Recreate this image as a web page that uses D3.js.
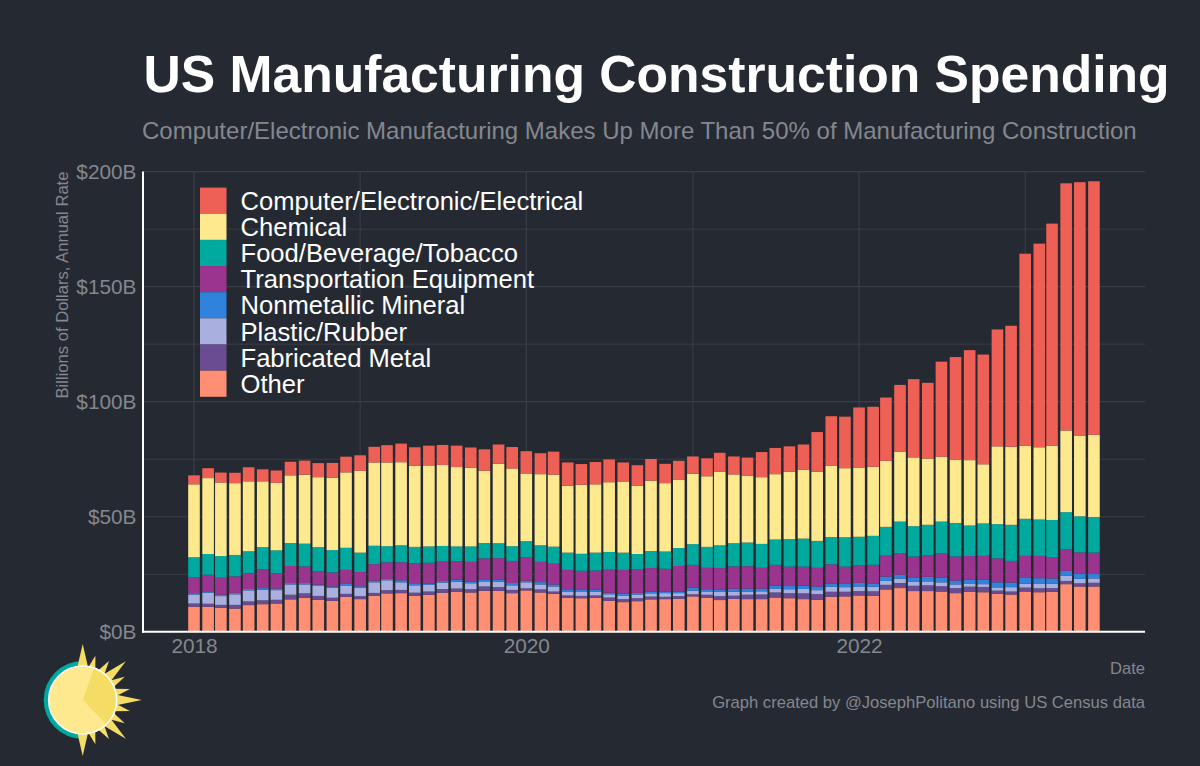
<!DOCTYPE html>
<html>
<head>
<meta charset="utf-8">
<title>US Manufacturing Construction Spending</title>
<script src="https://cdn.jsdelivr.net/npm/d3@7"></script>
<style>
html, body { margin: 0; padding: 0; background: #252a32; }
svg { display: block; font-family: "Liberation Sans", Arial, sans-serif; }
</style>
</head>
<body>
<svg id="chart"></svg>
<script>
var svgWidth = 1200;
var svgHeight = 766;

// monthly, Jan 2018 - Jun 2023, billions of dollars annual rate
var startMonth = "2018-01";
var computer = [3.9,4.3,4.3,4.5,6.1,5.2,5.4,5.9,6.1,6.1,6.5,6.8,6.8,6.8,7.5,8.1,8.1,8.6,8.7,9.3,8.8,9.3,8.4,9.3,9.7,9.1,10.0,10.1,9.0,9.7,9.9,8.3,9.0,9.4,8.4,8.3,7.5,7.8,8.3,7.8,7.8,10.9,11.4,11.0,10.9,17.2,21.6,22.4,26.1,26.1,27.5,29.1,34.0,32.9,41.4,44.7,47.8,47.7,50.8,52.6,83.5,88.5,96.6,107.4,110.1,110.2];
var chemical = [31.7,33.0,32.0,31.2,30.4,28.6,29.3,29.4,30.0,30.4,31.4,32.8,35.5,36.2,36.4,36.1,35.2,35.2,35.2,34.5,34.2,31.4,34.5,33.8,29.4,30.9,31.3,29.1,30.0,29.7,30.3,30.9,29.6,30.6,29.7,29.6,30.6,30.7,31.9,29.9,29.1,29.0,28.4,29.3,30.0,30.1,30.9,30.0,30.1,30.0,28.7,30.3,29.9,28.8,28.1,27.4,28.4,25.7,33.8,33.9,31.7,31.4,32.2,35.5,35.1,35.7];
var food = [8.8,9.0,9.4,9.3,9.6,9.7,9.9,10.0,9.9,10.4,9.7,9.6,8.4,8.0,7.0,7.4,7.1,7.1,6.8,6.4,6.7,6.7,6.5,6.4,7.1,7.2,7.4,7.5,7.4,7.8,7.7,7.5,6.5,7.4,7.5,7.8,9.0,9.1,9.9,10.1,10.3,10.4,11.0,12.0,12.2,11.7,11.9,12.8,12.5,12.6,12.5,13.8,13.2,13.3,13.9,14.6,13.3,14.1,14.9,15.7,16.1,15.8,16.1,16.1,15.7,15.5];
var transportation = [6.8,7.2,7.4,7.2,6.8,8.1,6.7,7.4,7.2,5.9,6.1,6.1,6.2,7.2,7.2,7.8,8.7,9.0,8.4,8.0,8.6,9.1,9.4,9.6,10.1,8.8,9.0,8.7,8.3,8.3,10.0,10.4,10.4,10.3,10.0,11.2,10.0,9.3,9.4,9.7,9.7,9.0,9.1,8.4,8.3,8.1,8.4,7.5,7.5,8.1,9.1,9.3,9.3,9.3,10.6,10.4,10.3,10.3,10.4,9.4,9.6,9.7,9.3,9.4,9.3,9.3];
var nonmetallic = [0.6,0.6,0.6,0.6,0.6,0.7,0.7,0.6,0.6,0.6,0.6,0.7,0.7,0.7,0.6,0.9,0.9,0.6,0.7,1.0,0.7,0.9,0.9,1.0,0.7,1.0,0.9,0.7,0.9,0.9,0.7,0.9,0.7,0.7,0.6,0.6,1.2,1.2,0.9,1.3,1.3,1.2,1.2,1.4,1.4,1.6,1.3,1.4,1.6,1.4,1.9,1.7,1.7,2.0,1.9,1.7,1.6,2.0,2.2,2.0,2.5,2.5,2.3,2.2,2.2,1.9];
var plastic = [3.9,4.8,3.8,4.6,4.8,4.6,4.2,4.5,3.9,4.3,4.3,3.6,3.6,4.6,4.3,3.3,3.2,2.9,2.8,2.9,2.6,2.2,2.3,2.0,2.6,2.2,2.2,1.7,1.7,1.6,1.4,1.4,1.6,1.4,1.6,1.3,1.6,1.2,1.9,1.7,1.4,1.4,1.7,1.7,1.9,1.7,2.2,2.0,2.0,2.0,1.7,1.9,1.7,1.7,1.7,1.6,1.4,1.2,1.4,1.9,1.7,1.9,1.9,2.2,1.9,1.9];
var fabricated = [1.4,1.3,1.3,1.6,1.6,1.7,1.6,2.0,1.9,1.7,1.3,1.3,1.3,1.2,1.4,1.4,1.3,1.4,1.6,1.4,1.4,1.9,1.6,1.4,0.9,1.3,1.0,1.0,1.0,1.0,1.4,1.3,1.3,1.2,1.0,1.2,0.9,1.3,1.7,1.4,1.9,2.0,2.2,2.2,2.5,2.5,2.2,2.0,1.9,1.9,2.0,2.2,2.3,2.5,2.3,2.2,2.2,2.3,1.4,1.3,1.7,1.7,1.6,1.4,1.4,1.6];
var other = [10.9,10.9,10.4,10.1,11.6,12.0,12.3,14.1,14.8,13.9,13.5,15.2,14.2,15.7,16.7,16.8,15.7,16.1,17.0,17.4,17.1,17.8,17.8,16.8,18.0,17.1,16.5,14.8,14.6,14.8,13.5,12.9,13.3,14.1,14.2,14.3,15.4,14.8,13.8,14.3,14.2,14.2,14.9,14.6,14.2,13.9,15.2,15.4,15.8,15.7,18.4,19.0,17.7,17.7,17.5,16.8,17.4,17.2,16.5,16.2,17.5,17.2,17.4,20.7,19.7,19.7];

var seriesNames = ["Computer/Electronic/Electrical", "Chemical", "Food/Beverage/Tobacco", "Transportation Equipment", "Nonmetallic Mineral", "Plastic/Rubber", "Fabricated Metal", "Other"];
var seriesValues = [computer, chemical, food, transportation, nonmetallic, plastic, fabricated, other];
var seriesColors = ["#EE6055", "#FFE98F", "#00A99D", "#9A348E", "#3083DC", "#A9B0E0", "#6A4C93", "#FF8E72"];

var yMajor = [0, 50, 100, 150, 200];
var yMinor = [25, 75, 125, 175];
var xMajor = ["2018-01-01", "2020-01-01", "2022-01-01"];
var xMinor = ["2019-01-01", "2021-01-01", "2023-01-01"];

var bg = "#252a32";
var gridColor = "#3a3e47";
var mutedText = "#84878e";
var barWidth = 11.6;

var parseDay = d3.utcParse("%Y-%m-%d");

var svg = d3.select("#chart")
    .attr("width", svgWidth)
    .attr("height", svgHeight);

svg.append("rect").attr("width", svgWidth).attr("height", svgHeight).attr("fill", bg);

// scales, pinned to where the gridlines fall in the picture
var x = d3.scaleUtc()
    .domain([parseDay("2018-01-01"), parseDay("2023-01-01")])
    .range([194, 1025.2]);
var y = d3.scaleLinear()
    .domain([0, 200])
    .range([631.8, 171.6]);

var plotLeft = 143;
var plotRight = 1145;

// gridlines
function vGrid(list, w) {
    svg.append("g").selectAll("line").data(list).enter().append("line")
        .attr("x1", function(d) { return x(parseDay(d)); })
        .attr("x2", function(d) { return x(parseDay(d)); })
        .attr("y1", y(200))
        .attr("y2", y(0))
        .attr("stroke", gridColor)
        .attr("stroke-width", w);
}
function hGrid(list, w) {
    svg.append("g").selectAll("line").data(list).enter().append("line")
        .attr("x1", plotLeft)
        .attr("x2", plotRight)
        .attr("y1", function(d) { return y(d); })
        .attr("y2", function(d) { return y(d); })
        .attr("stroke", gridColor)
        .attr("stroke-width", w);
}
vGrid(xMinor, 1);
hGrid(yMinor, 1);
vGrid(xMajor, 1.2);
hGrid(yMajor, 1.2);

// stacked bars, bottom series is last in the list
var months = computer.map(function(d, i) {
    return d3.utcMonth.offset(d3.utcParse("%Y-%m")(startMonth), i);
});
var rows = months.map(function(m, i) {
    var row = { date: m };
    seriesNames.forEach(function(name, s) { row[name] = seriesValues[s][i]; });
    return row;
});
var stacked = d3.stack().keys(seriesNames.slice().reverse())(rows);

svg.append("g").selectAll("g")
    .data(stacked)
    .enter()
    .append("g")
    .attr("fill", function(d) { return seriesColors[seriesNames.indexOf(d.key)]; })
    .selectAll("rect")
    .data(function(d) { return d; })
    .enter()
    .append("rect")
    .attr("x", function(d) { return x(d.data.date) - barWidth / 2; })
    .attr("width", barWidth)
    .attr("y", function(d) { return y(d[1]); })
    .attr("height", function(d) { return y(d[0]) - y(d[1]); });

// axes
var yAxis = svg.append("g")
    .attr("transform", "translate(" + plotLeft + ",0)")
    .call(d3.axisLeft(y).tickValues(yMajor).tickSize(0).tickPadding(6.5)
        .tickFormat(function(d) { return "$" + d + "B"; }));
yAxis.select(".domain").remove();
yAxis.selectAll("text").attr("fill", mutedText).attr("font-size", 20.8)
    .attr("font-family", "Liberation Sans");

var xAxis = svg.append("g")
    .attr("transform", "translate(0," + y(0) + ")")
    .call(d3.axisBottom(x).tickValues(xMajor.map(parseDay)).tickSize(0).tickPadding(6)
        .tickFormat(d3.utcFormat("%Y")));
xAxis.select(".domain").remove();
xAxis.selectAll("text").attr("fill", mutedText).attr("font-size", 20.8)
    .attr("font-family", "Liberation Sans");

svg.append("line").attr("x1", plotLeft).attr("x2", plotLeft)
    .attr("y1", y(200)).attr("y2", y(0) + 1)
    .attr("stroke", "#ffffff").attr("stroke-width", 2);
svg.append("line").attr("x1", plotLeft - 1).attr("x2", plotRight)
    .attr("y1", y(0)).attr("y2", y(0))
    .attr("stroke", "#ffffff").attr("stroke-width", 2);

// legend
var legendTop = 187.6;
var legendStep = 26.15;
var legend = svg.append("g").selectAll("g")
    .data(seriesNames)
    .enter()
    .append("g")
    .attr("transform", function(d, i) { return "translate(200," + (legendTop + i * legendStep) + ")"; });
legend.append("rect")
    .attr("width", 26.5)
    .attr("height", legendStep)
    .attr("fill", function(d, i) { return seriesColors[i]; });
legend.append("text")
    .attr("x", 40.5)
    .attr("y", legendStep / 2)
    .attr("dy", "0.36em")
    .attr("fill", "#ffffff")
    .attr("font-size", 25.6)
    .text(function(d) { return d; });

// titles and notes
svg.append("text").attr("x", 143.5).attr("y", 91.7)
    .attr("fill", "#ffffff").attr("font-size", 51.6).attr("font-weight", "bold")
    .text("US Manufacturing Construction Spending");
svg.append("text").attr("x", 142).attr("y", 138.5)
    .attr("fill", mutedText).attr("font-size", 24)
    .text("Computer/Electronic Manufacturing Makes Up More Than 50% of Manufacturing Construction");
svg.append("text").attr("transform", "translate(67.5,285) rotate(-90)")
    .attr("text-anchor", "middle")
    .attr("fill", mutedText).attr("font-size", 16.6)
    .text("Billions of Dollars, Annual Rate");
svg.append("text").attr("x", 1145).attr("y", 673.5)
    .attr("text-anchor", "end")
    .attr("fill", mutedText).attr("font-size", 16.6)
    .text("Date");
svg.append("text").attr("x", 1145).attr("y", 708)
    .attr("text-anchor", "end")
    .attr("fill", mutedText).attr("font-size", 16.6)
    .text("Graph created by @JosephPolitano using US Census data");

// sun logo
var sun = svg.append("g").attr("transform", "translate(82.7,700)");
sun.append("path")
    .attr("d", d3.arc()({ innerRadius: 0, outerRadius: 39, startAngle: Math.PI, endAngle: 2 * Math.PI }))
    .attr("fill", "#00A99D");
// [angle from east in degrees, tip length, half width of the base]
var rays = [[90,56,6],[74,46,4.5],[56,47,4.5],[42,58,5.5],[29,48,4.5],[13,48.5,4.5],[0,59,6],[-13,48.5,4.5],[-29,48,4.5],[-42,58,5.5],[-56,47,4.5],[-74,46,4.5],[-90,56,6]];
sun.selectAll("path.ray").data(rays).enter().append("path")
    .attr("class", "ray")
    .attr("transform", function(d) { return "rotate(" + (-d[0]) + ")"; })
    .attr("d", function(d) { return "M30," + (-d[2]) + "L" + d[1] + ",0L30," + d[2] + "Z"; })
    .attr("fill", "#F5DC65");
sun.append("circle").attr("r", 34).attr("fill", "#FFE98F")
    .attr("stroke", "#ffffff").attr("stroke-width", 1.6);
sun.append("path")
    .attr("d", d3.arc()({ innerRadius: 0, outerRadius: 33, startAngle: 0.35, endAngle: 2.36 }))
    .attr("fill", "#F5DC65");
</script>
</body>
</html>
